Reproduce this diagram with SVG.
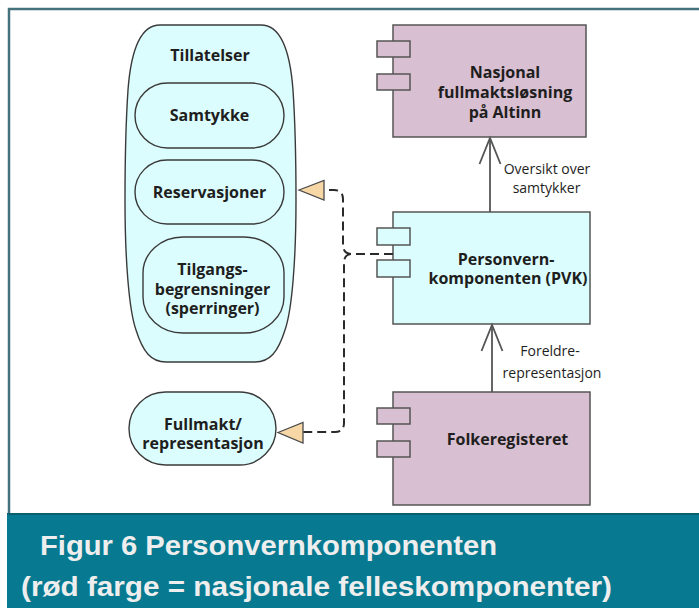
<svg xmlns="http://www.w3.org/2000/svg" width="699" height="608" viewBox="0 0 699 608">
  <defs>
    <style>
      .lbl { font-family: "Open Sans", "Liberation Sans", sans-serif; font-weight: 700; font-size: 16px; fill: #1e1e1e; text-anchor: middle; }
      .note { font-family: "Open Sans", "Liberation Sans", sans-serif; font-weight: 400; font-size: 14px; fill: #1e1e1e; text-anchor: middle; }
      .cap { font-family: "Liberation Sans", Arial, sans-serif; font-weight: 700; font-size: 28.5px; fill: #eeeeee; }
      .soft { fill: #dcfdfd; stroke: #3a3a3a; stroke-width: 1.4; }
      .natl { fill: #d8bfd1; stroke: #555; stroke-width: 1.5; }
      .local { fill: #dcfdfd; stroke: #555; stroke-width: 1.5; }
      .dep { fill: none; stroke: #2a2a2a; stroke-width: 2; stroke-dasharray: 9 5; }
      .flow { fill: none; stroke: #555; stroke-width: 1.8; }
      .tri { fill: #f8d7a6; stroke: #4a4a4a; stroke-width: 1.3; }
    </style>
    <marker id="openArrow" markerUnits="userSpaceOnUse" markerWidth="28" markerHeight="22" viewBox="0 0 28 22" refX="26" refY="11" orient="auto" overflow="visible">
      <path d="M0,0.5 L26,11 L0,21.5" fill="none" stroke="#555" stroke-width="1.8"/>
    </marker>
  </defs>

  <!-- page background and frame -->
  <rect x="0" y="0" width="699" height="608" fill="#ffffff"/>
  <path d="M9,513 V9 H699" fill="none" stroke="#44737d" stroke-width="2.5"/>

  <!-- caption band -->
  <g id="caption">
    <rect x="7" y="513" width="692" height="95" fill="#077a91"/>
    <line x1="7" y1="514" x2="699" y2="514" stroke="#0a5f70" stroke-width="2"/>
    <text class="cap" x="40" y="555" textLength="457" lengthAdjust="spacingAndGlyphs">Figur 6 Personvernkomponenten</text>
    <text class="cap" x="21" y="596" textLength="591" lengthAdjust="spacingAndGlyphs">(rød farge = nasjonale felleskomponenter)</text>
  </g>

  <!-- permissions group -->
  <g id="tillatelser">
    <path class="soft" d="M160,25 H261 C280,25 290,50 293,90 C295,120 296,160 296,200 C296,260 292,310 285,330 C278,352 270,362 255,362 H166 C151,362 143,352 136,330 C129,310 125,260 125,200 C125,160 126,120 128,90 C131,50 141,25 160,25 Z"/>
    <text class="lbl" x="210" y="61">Tillatelser</text>
  </g>
  <g id="samtykke">
    <rect class="soft" x="135" y="83" width="149" height="65" rx="32.5"/>
    <text class="lbl" x="209.5" y="121">Samtykke</text>
  </g>
  <g id="reservasjoner">
    <rect class="soft" x="135" y="160" width="149" height="64" rx="32"/>
    <text class="lbl" x="209.5" y="197.5">Reservasjoner</text>
  </g>
  <g id="sperringer">
    <rect class="soft" x="143" y="237" width="141" height="96" rx="40" ry="36"/>
    <text class="lbl" x="212.5" y="275">Tilgangs-</text>
    <text class="lbl" x="212.5" y="295">begrensninger</text>
    <text class="lbl" x="212.5" y="314">(sperringer)</text>
  </g>
  <g id="fullmakt">
    <rect class="soft" x="129" y="392" width="147" height="73" rx="36.5"/>
    <text class="lbl" x="203" y="430">Fullmakt/</text>
    <text class="lbl" x="203" y="448.5">representasjon</text>
  </g>

  <!-- components -->
  <g id="altinn">
    <rect class="natl" x="393" y="25" width="193" height="112"/>
    <rect class="natl" x="377" y="41" width="33" height="16"/>
    <rect class="natl" x="377" y="74" width="33" height="16"/>
    <text class="lbl" x="505" y="77.5">Nasjonal</text>
    <text class="lbl" x="505" y="97.5">fullmaktsløsning</text>
    <text class="lbl" x="505" y="117.5">på Altinn</text>
  </g>
  <g id="pvk">
    <rect class="local" x="393" y="212" width="197" height="112"/>
    <rect class="local" x="377" y="228" width="33" height="17"/>
    <rect class="local" x="377" y="260" width="33" height="17"/>
    <text class="lbl" x="506" y="265">Personvern-</text>
    <text class="lbl" x="508" y="283.5">komponenten (PVK)</text>
  </g>
  <g id="folkeregisteret">
    <rect class="natl" x="393" y="392" width="197" height="113"/>
    <rect class="natl" x="377" y="408" width="33" height="16"/>
    <rect class="natl" x="377" y="441" width="33" height="16"/>
    <text class="lbl" x="507.5" y="444.5">Folkeregisteret</text>
  </g>

  <!-- connectors -->
  <g id="connectors">
    <path class="flow" d="M490,212 V138" marker-end="url(#openArrow)"/>
    <path class="flow" d="M492,392 V325" marker-end="url(#openArrow)"/>
    <path class="dep" d="M393,254 H352 Q343,254 343,245 V199 Q343,190 334,190 H324"/>
    <path class="dep" d="M393,254 H352 Q344,254 344,263 V423 Q344,432 335,432 H303"/>
    <polygon class="tri" points="299,190 324,180.5 324,200"/>
    <polygon class="tri" points="278,432.5 303,422.5 303,443"/>
    <text class="note" x="547" y="173.5">Oversikt over</text>
    <text class="note" x="546.5" y="193">samtykker</text>
    <text class="note" x="550" y="356">Foreldre-</text>
    <text class="note" x="552" y="377.5">representasjon</text>
  </g>
</svg>
